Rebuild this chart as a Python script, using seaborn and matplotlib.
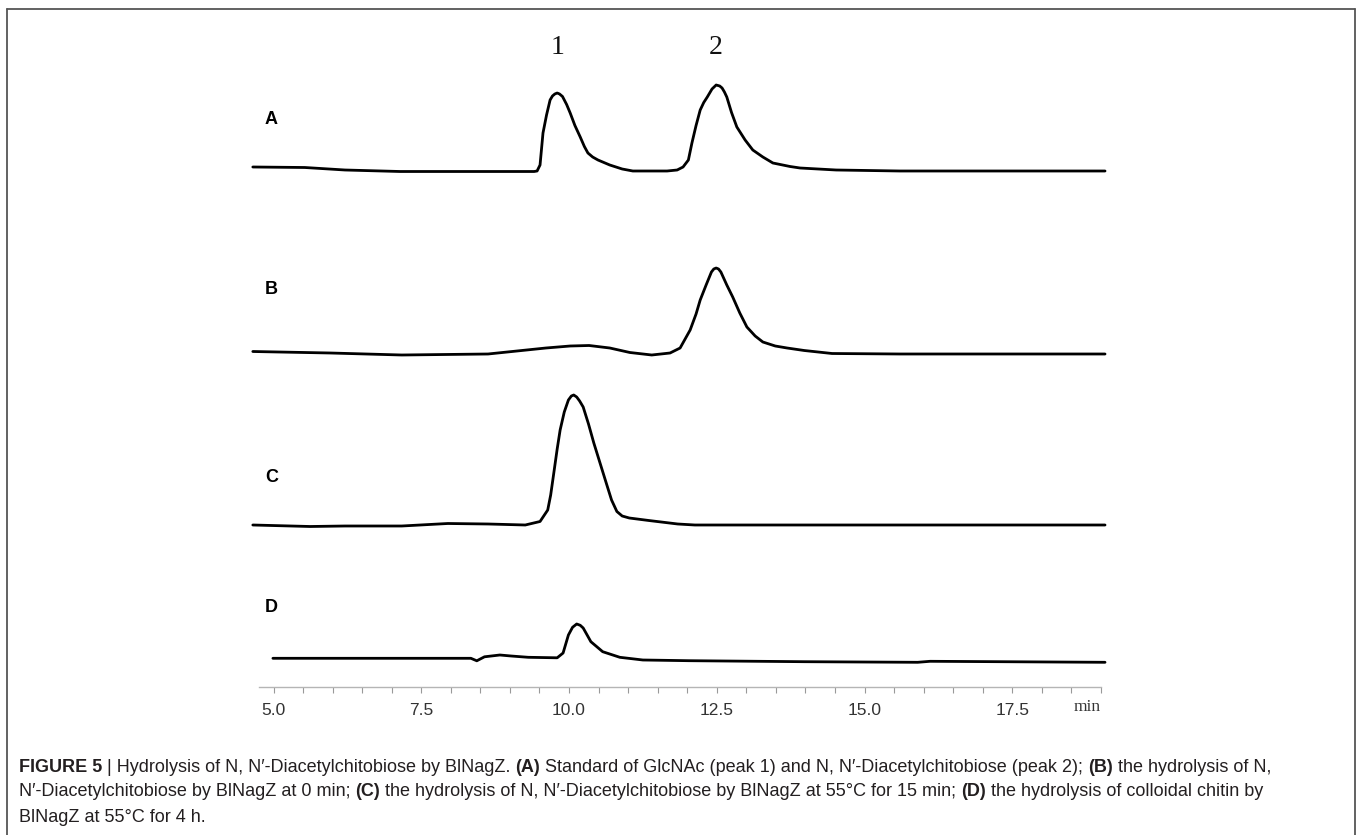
import numpy as np
import pandas as pd
import matplotlib
matplotlib.use("Agg")
import matplotlib.pyplot as plt
import seaborn as sns
from matplotlib.ticker import FixedLocator
from matplotlib.lines import Line2D

# chromatogram traces: retention time (min) and detector signal (a.u.)
time_a = [4.65, 5.53, 6.21, 7.14, 9.41, 9.46, 9.51, 9.56, 9.62, 9.68, 9.72, 9.76, 9.80, 9.84,
          9.89, 9.96, 10.02, 10.10, 10.19, 10.26, 10.32, 10.40, 10.49, 10.69, 10.90, 11.08,
          11.66, 11.83, 11.93, 12.02, 12.08, 12.15, 12.22, 12.28, 12.34, 12.42, 12.49, 12.55,
          12.59, 12.63, 12.67, 12.75, 12.84, 12.98, 13.11, 13.28, 13.45, 13.74, 13.91,
          14.52, 15.60, 17.29, 19.07]
sig_a = [4.5, 4.0, 1.5, 0, 0, 0.5, 6.5, 38.5, 56.5, 71.5, 75.5, 77.5, 78.5, 77.5,
         75, 67, 58.5, 46, 34.5, 25, 18.5, 14.5, 11.5, 6.5, 2.5, 0.5,
         0.5, 1.5, 4.5, 11.5, 28.5, 46, 61.5, 69, 74.5, 82.5, 86.5, 85.5,
         83.5, 79.5, 74.5, 59, 44.5, 31.5, 21.5, 14.5, 8.5, 5, 3.5,
         1.5, 0.5, 0.5, 0.5]

time_b = [4.65, 5.96, 7.17, 8.63, 9.61, 10.02, 10.34, 10.69, 11.03, 11.40, 11.71, 11.88,
          12.05, 12.15, 12.22, 12.32, 12.41, 12.45, 12.49, 12.53, 12.57, 12.67, 12.77, 12.89,
          13.01, 13.15, 13.28, 13.49, 13.69, 13.98, 14.45, 15.60, 17.29, 19.07]
sig_b = [2.5, 1, -1, 0, 6, 8, 8.5, 6, 1.5, -1, 1, 6,
         24, 40, 54, 69, 82, 85, 86, 85, 82, 69, 57, 41,
         27, 18, 12, 8, 6, 3.5, 0.5, 0, 0, 0]

time_c = [4.65, 5.62, 6.21, 7.17, 7.95, 8.63, 9.26, 9.51, 9.64, 9.69, 9.75, 9.80, 9.85,
          9.92, 9.99, 10.04, 10.08, 10.13, 10.18, 10.24, 10.33, 10.42, 10.63, 10.72, 10.81,
          10.90, 11.02, 11.35, 11.84, 12.13, 15.60, 19.07]
sig_c = [0, -1.5, -1, -1, 1.5, 1, 0, 3.5, 15, 30, 55, 76, 95,
         113, 125, 129, 130, 128, 124, 118, 101, 82, 42, 25, 13.5,
         9, 7, 4.5, 1, 0, 0, 0]

time_d = [4.99, 8.34, 8.44, 8.57, 8.83, 9.02, 9.31, 9.80, 9.90, 9.99, 10.06, 10.13, 10.19,
          10.24, 10.30, 10.37, 10.57, 10.86, 11.25, 12.03, 13.98, 15.90, 16.11, 19.07]
sig_d = [0, 0, -2.5, 1.5, 3.3, 2.3, 1, 0.5, 5.3, 23.3, 31, 34.3, 33,
         30.3, 24, 16.6, 6.6, 1, -1.7, -2.4, -3.4, -4, -3, -4]

trace_names = ["A", "B", "C", "D"]
peak_labels = ["1", "2"]
peak_times = [9.80, 12.49]
tick_labels = ["5.0", "7.5", "10.0", "12.5", "15.0", "17.5"]

caption_lines = [
    [("FIGURE 5", True), (" | Hydrolysis of N, N\u2032-Diacetylchitobiose by BlNagZ. ", False), ("(A)", True),
     (" Standard of GlcNAc (peak 1) and N, N\u2032-Diacetylchitobiose (peak 2); ", False), ("(B)", True),
     (" the hydrolysis of N,", False)],
    [("N\u2032-Diacetylchitobiose by BlNagZ at 0 min; ", False), ("(C)", True),
     (" the hydrolysis of N, N\u2032-Diacetylchitobiose by BlNagZ at 55\u00b0C for 15 min; ", False),
     ("(D)", True), (" the hydrolysis of colloidal chitin by", False)],
    [("BlNagZ at 55\u00b0C for 4 h.", False)],
]

# vertical stacking of the traces (layout only)
offsets = {"A": 515.5, "B": 333, "C": 162, "D": 28.7}

frames = []
for name, t, s in zip(trace_names, [time_a, time_b, time_c, time_d], [sig_a, sig_b, sig_c, sig_d]):
    frames.append(pd.DataFrame({"time": t, "signal": s, "trace": name}))
df = pd.concat(frames, ignore_index=True)
df["y"] = df["signal"] + df["trace"].map(offsets)

sns.set_theme(style="white")
sans = ["Liberation Sans", "DejaVu Sans"]
serif = ["Liberation Serif", "DejaVu Serif"]
plt.rcParams["font.family"] = sans

W, H = 1357, 835
fig = plt.figure(figsize=(W / 100, H / 100), dpi=100)

px_per_min = 59.1
x5 = 273.5
ax_l, ax_r, ax_t, ax_b = 240, 1115, 20, 687
ax = fig.add_axes([ax_l / W, 1 - ax_b / H, (ax_r - ax_l) / W, (ax_b - ax_t) / H])

sns.lineplot(data=df, x="time", y="y", hue="trace", units="trace", estimator=None,
             palette={n: "black" for n in trace_names}, linewidth=2.0, legend=False, ax=ax)
for ln in ax.lines:
    ln.set_solid_joinstyle("round")

ax.set_xlim(5 + (ax_l - x5) / px_per_min, 5 + (ax_r - x5) / px_per_min)
ax.set_ylim(0, ax_b - ax_t)
ax.set_xlabel("")
ax.set_ylabel("")
ax.set_yticks([])
for side in ["left", "top", "right"]:
    ax.spines[side].set_visible(False)
ax.spines["bottom"].set_bounds(4.76, 19.0)
ax.spines["bottom"].set_color("#b5b5b5")
ax.spines["bottom"].set_linewidth(1.0)

ax.xaxis.set_major_locator(FixedLocator([5.0, 7.5, 10.0, 12.5, 15.0, 17.5]))
ax.xaxis.set_minor_locator(FixedLocator(np.arange(5.0, 19.01, 0.5)))
ax.set_xticklabels(tick_labels)
ax.tick_params(axis="x", which="both", direction="out", length=4.5, width=0.8,
               color="#999999", bottom=True)
ax.tick_params(axis="x", which="major", labelsize=12.5, labelcolor="#333333", pad=7)

# panel letters
letter_y = {"A": 120, "B": 290, "C": 477, "D": 607}
for name in trace_names:
    ax.text(5 + (265 - x5) / px_per_min, ax_b - letter_y[name], name, fontsize=13,
            fontweight="bold", ha="left", va="center", color="black")

# peak numbers
for lab, pt in zip(peak_labels, peak_times):
    ax.text(pt, ax_b - 48, lab, fontsize=20, family=serif, ha="center", va="center", color="#111111")

ax.text(5 + (1087 - x5) / px_per_min, ax_b - 707, "min", fontsize=12.5, family=serif,
        ha="center", va="center", color="#333333", clip_on=False)

# frame around the figure
frame_kw = dict(color="#555555", linewidth=1.3, transform=fig.transFigure)
fig.add_artist(Line2D([7 / W, 7 / W], [1 - 9 / H, 0], **frame_kw))
fig.add_artist(Line2D([7 / W, 1355 / W], [1 - 9 / H, 1 - 9 / H], **frame_kw))
fig.add_artist(Line2D([1355 / W, 1355 / W], [1 - 9 / H, 0], **frame_kw))

# caption with bold runs
renderer = fig.canvas.get_renderer()
cap_size = 13


def text_width(s, bold=False):
    t = fig.text(0, 0, s, fontsize=cap_size, family=sans, fontweight="bold" if bold else "normal")
    w = t.get_window_extent(renderer).width
    t.remove()
    return w


space_w = text_width("a a") - text_width("aa")
for line, y_px in zip(caption_lines, [767, 792, 817]):
    x = 19
    for txt, bold in line:
        lead = len(txt) - len(txt.lstrip(" "))
        trail = len(txt) - len(txt.rstrip(" "))
        body = txt.strip(" ")
        x += lead * space_w
        t = fig.text(x / W, 1 - y_px / H, body, fontsize=cap_size, family=sans,
                     fontweight="bold" if bold else "normal", ha="left", va="center",
                     color="#231f20")
        x += t.get_window_extent(renderer).width + trail * space_w

fig.savefig("out.png", dpi=100)
